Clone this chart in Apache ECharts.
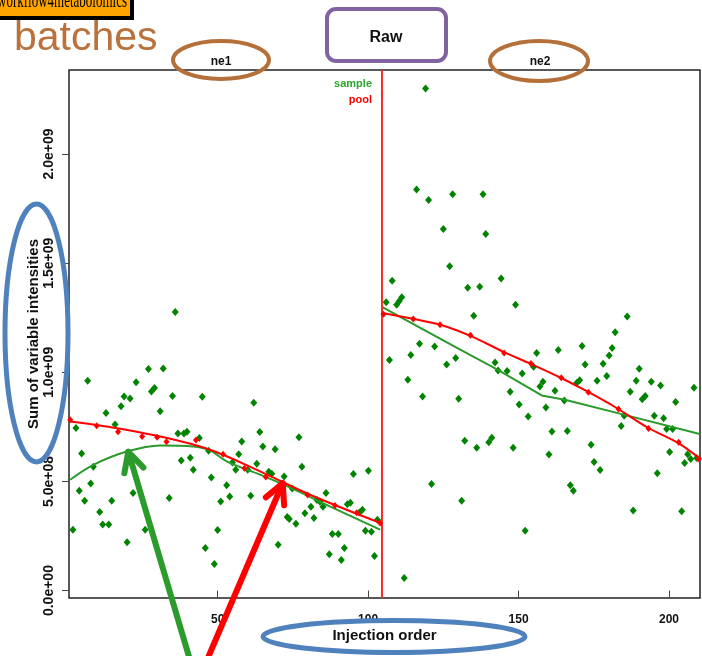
<!DOCTYPE html>
<html><head><meta charset="utf-8">
<script src="https://cdn.jsdelivr.net/npm/echarts@6/dist/echarts.min.js"></script>
<style>html,body{margin:0;padding:0;background:#fff}#c{width:702px;height:656px}</style>
</head><body><div id="c"></div>
<script>
// ---- data ----
const sampleX = [2.9,1.9,4.8,4.0,6.8,5.8,7.8,8.7,10.8,11.8,13.8,14.8,12.9,15.9,17.9,18.9,20.9,19.9,21.9,22.9,27.0,28.0,29.0,30.9,31.9,25.9,33.9,35.0,35.9,36.8,38.8,39.8,37.9,40.9,41.9,43.9,44.9,45.9,47.0,47.9,48.9,50.0,51.0,53.0,54.0,54.9,56.0,57.0,58.0,60.0,61.0,62.0,63.0,64.0,65.0,67.0,68.0,69.1,70.1,72.1,73.1,73.8,74.8,76.0,77.0,78.0,79.0,81.0,82.0,83.0,84.0,85.0,86.0,87.1,88.1,90.1,91.1,92.1,93.1,94.1,95.1,97.1,98.1,99.1,100.1,101.1,102.1,103.1,
106.0,107.1,108.0,109.5,110.3,111.2,112.0,113.2,114.2,116.1,117.1,118.1,119.1,120.1,121.1,122.1,125.0,126.1,127.1,128.1,129.1,130.1,131.1,132.1,133.1,135.1,136.1,137.1,138.2,139.1,140.1,141.1,142.2,143.2,144.2,146.2,147.2,148.2,149.0,150.2,151.2,152.2,153.2,155.0,156.0,157.1,158.1,159.1,160.1,161.1,162.1,163.2,165.2,166.2,167.2,168.2,169.3,170.3,171.1,172.1,174.1,175.1,176.1,177.1,178.1,179.3,180.1,181.1,182.1,184.1,185.1,186.1,187.1,188.1,189.1,190.1,191.1,192.1,194.1,195.1,196.1,197.2,198.2,199.2,200.2,201.2,202.2,204.2,205.2,206.2,207.2,208.3,209.2];
const sampleY = [7.45e8,2.79e8,6.28e8,4.57e8,9.61e8,4.12e8,4.91e8,5.67e8,3.6e8,3.03e8,3.03e8,4.12e8,8.13e8,7.61e8,8.45e8,8.89e8,8.8e8,2.21e8,4.47e8,9.55e8,1.015e9,9.12e8,9.28e8,8.22e8,1.017e9,2.79e8,4.24e8,8.92e8,1.276e9,7.2e8,7.2e8,7.28e8,5.96e8,6.09e8,5.54e8,6.99e8,8.88e8,1.95e8,6.41e8,5.18e8,1.22e8,2.77e8,4.08e8,4.82e8,4.31e8,5.87e8,5.54e8,6.25e8,6.83e8,5.54e8,4.35e8,8.6e8,5.81e8,7.26e8,6.6e8,5.44e8,5.35e8,6.48e8,2.1e8,5.23e8,3.37e8,3.28e8,4.68e8,3.06e8,7.03e8,5.67e8,3.54e8,3.84e8,3.32e8,4.15e8,4.07e8,3.84e8,4.47e8,1.66e8,2.59e8,2.59e8,1.4e8,1.95e8,3.95e8,4.02e8,5.34e8,3.58e8,3.7e8,2.74e8,5.49e8,2.7e8,1.58e8,3.25e8,
1.321e9,1.056e9,1.42e9,1.31e9,1.325e9,1.344e9,5.8e7,9.66e8,1.079e9,1.837e9,1.131e9,8.89e8,2.3e9,1.789e9,4.88e8,1.118e9,1.656e9,1.036e9,1.486e9,1.816e9,1.066e9,8.79e8,4.12e8,6.86e8,1.387e9,1.259e9,6.54e8,1.392e9,1.816e9,1.634e9,6.79e8,7.0e8,1.045e9,1.008e9,1.43e9,1.006e9,9.11e8,6.54e8,1.31e9,8.53e8,9.95e8,2.74e8,7.98e8,1.025e9,1.089e9,9.35e8,9.57e8,8.39e8,6.24e8,7.29e8,9.15e8,1.102e9,8.71e8,7.31e8,4.83e8,4.57e8,9.51e8,9.64e8,1.121e9,1.036e9,6.68e8,5.89e8,9.61e8,5.52e8,1.039e9,9.83e8,1.077e9,1.111e9,1.184e9,7.54e8,8.01e8,1.256e9,9.11e8,3.67e8,9.61e8,1.016e9,8.77e8,8.92e8,9.57e8,8.01e8,5.38e8,9.4e8,7.9e8,7.4e8,6.35e8,7.4e8,8.64e8,3.64e8,5.84e8,6.25e8,6.03e8,9.29e8,6.07e8];

const poolX = [1.0,9.8,16.9,24.9,29.9,33.0,42.8,51.8,58.9,66.0,71.1,79.9,89.0,96.2,104.0,
105.1,115.0,123.9,134.0,145.2,154.1,164.2,173.2,183.2,193.2,203.2,209.9];
const poolY = [7.83e8,7.55e8,7.28e8,7.06e8,7.02e8,6.82e8,6.9e8,6.25e8,5.61e8,5.2e8,4.89e8,4.38e8,3.9e8,3.57e8,3.1e8,
1.266e9,1.244e9,1.218e9,1.17e9,1.088e9,1.04e9,9.75e8,9.09e8,8.32e8,7.43e8,6.8e8,6.03e8];

// fitted trend lines per batch
const sampleFit1X = [1,8.7,19.8,30.9,41.9,47.5,53,64.1,75.2,86.2,104];
const sampleFit1Y = [5.08e8,5.76e8,6.37e8,6.65e8,6.6e8,6.42e8,5.92e8,5.31e8,4.65e8,3.93e8,2.79e8];
const sampleFit2X = [104.6,118.4,130,142.7,157.7,165.4,185.3,210.2];
const sampleFit2Y = [1.3e9,1.195e9,1.108e9,1.015e9,8.94e8,8.74e8,8.05e8,7.17e8];
const poolFit1X = [1,14.3,30.9,47.5,64.1,80.7,104];
const poolFit1Y = [7.75e8,7.49e8,7.06e8,6.45e8,5.46e8,4.39e8,3.1e8];
const poolFit2X = [104.5,115,124,134,145,154,164,173,183,193,203,210.3];
const poolFit2Y = [1.272e9,1.245e9,1.218e9,1.167e9,1.094e9,1.039e9,9.75e8,9.11e8,8.33e8,7.46e8,6.77e8,6.05e8];

const batchBoundary = 104.5;
const xTicks = [50,100,150,200];
const yTicks = [0,5e8,1e9,1.5e9,2e9];
const yTickLabels = ['0.0e+00','5.0e+08','1.0e+09','1.5e+09','2.0e+09'];
const batchNames = ['ne1','ne2'];
const legendNames = ['sample','pool'];

const zip = (xs, ys) => xs.map((x, i) => [x, ys[i]]);

// ---- annotation helpers ----
function arrow(tail, tip, color) {
  const dx = tail[0] - tip[0], dy = tail[1] - tip[1];
  const a = Math.atan2(dy, dx), L = 22, s = 0.47;
  const w1 = [tip[0] + L * Math.cos(a + s), tip[1] + L * Math.sin(a + s)];
  const w2 = [tip[0] + L * Math.cos(a - s), tip[1] + L * Math.sin(a - s)];
  const st = {stroke: color, lineWidth: 6, lineCap: 'round', lineJoin: 'round', fill: null};
  return [
    {type: 'polyline', z: 100, shape: {points: [tail, tip]}, style: st},
    {type: 'polyline', z: 100, shape: {points: [w1, tip, w2]}, style: st}
  ];
}

const FONT = '"Liberation Sans", Arial, sans-serif';
const chart = echarts.init(document.getElementById('c'), null, {renderer: 'canvas'});

chart.setOption({
  animation: false,
  backgroundColor: '#fff',
  grid: {left: 69, right: 2, top: 70, bottom: 58, show: true, borderColor: '#222', borderWidth: 1.5, backgroundColor: 'transparent'},
  xAxis: {
    type: 'value', min: 0.6, max: 210.3,
    name: 'Injection order', nameLocation: 'middle', nameGap: 30, nameMoveOverlap: false,
    nameTextStyle: {fontFamily: FONT, fontSize: 15, fontWeight: 'bold', color: '#111'},
    axisLine: {show: false},
    splitLine: {show: false},
    axisTick: {show: true, length: 7, lineStyle: {color: '#444', width: 1}, customValues: xTicks},
    axisLabel: {fontFamily: FONT, fontSize: 12, fontWeight: 'bold', color: '#111', margin: 16, customValues: xTicks}
  },
  yAxis: {
    type: 'value', min: -3.4e7, max: 2.385e9,
    name: 'Sum of variable intensities', nameLocation: 'middle', nameGap: 28, nameRotate: 90, nameMoveOverlap: false,
    nameTextStyle: {fontFamily: FONT, fontSize: 15, fontWeight: 'bold', color: '#111'},
    axisLine: {show: false},
    splitLine: {show: false},
    axisTick: {show: true, length: 7, lineStyle: {color: '#444', width: 1}, customValues: yTicks},
    axisLabel: {fontFamily: FONT, fontSize: 14, fontWeight: 'bold', color: '#111', rotate: 90, margin: 13,
      customValues: yTicks,
      formatter: v => { const i = yTicks.indexOf(v); return i >= 0 ? yTickLabels[i] : ''; }}
  },
  series: [
    {type: 'scatter', name: 'sample', data: zip(sampleX, sampleY), symbol: 'diamond', symbolSize: [7, 8],
      itemStyle: {color: '#008400', opacity: 1}, z: 3,
      markLine: {silent: true, symbol: 'none', label: {show: false},
        lineStyle: {color: '#ff2a2a', width: 2, type: 'solid'}, data: [{xAxis: batchBoundary}]}},
    {type: 'line', data: zip(sampleFit1X, sampleFit1Y), smooth: 0.35, showSymbol: false,
      lineStyle: {color: '#2a9a2a', width: 2}, z: 4},
    {type: 'line', data: zip(sampleFit2X, sampleFit2Y), smooth: false, showSymbol: false,
      lineStyle: {color: '#2a9a2a', width: 2}, z: 4},
    {type: 'line', data: zip(poolFit1X, poolFit1Y), smooth: 0.35, showSymbol: false,
      lineStyle: {color: '#ff0000', width: 2}, z: 5},
    {type: 'line', data: zip(poolFit2X, poolFit2Y), smooth: 0.3, showSymbol: false,
      lineStyle: {color: '#ff0000', width: 2}, z: 5},
    {type: 'scatter', name: 'pool', data: zip(poolX, poolY), symbol: 'diamond', symbolSize: [6, 7],
      itemStyle: {color: '#ff0000', opacity: 1}, z: 6}
  ],
  graphic: [
    // top-left banner
    {type: 'rect', z: 100, shape: {x: -6, y: -8, width: 138, height: 26}, style: {fill: '#FFA500', stroke: '#000', lineWidth: 4}},
    {type: 'text', z: 101, x: 127, y: 12, scaleY: 1.6,
      style: {text: 'workflow4metabolomics', fontFamily: '"Liberation Serif", "Times New Roman", serif', fontSize: 13, fill: '#000', align: 'right', verticalAlign: 'bottom'}},
    {type: 'text', z: 101, x: 14, y: 59,
      style: {text: 'batches', fontFamily: FONT, fontSize: 41, fill: '#B9723B', align: 'left', verticalAlign: 'bottom'}},
    // title box
    {type: 'rect', z: 100, shape: {x: 327, y: 9, width: 119, height: 52, r: 9}, style: {fill: null, stroke: '#8064A2', lineWidth: 4}},
    {type: 'text', z: 101, x: 386, y: 38, style: {text: 'Raw', fontFamily: FONT, fontSize: 16, fontWeight: 'bold', fill: '#111', align: 'center', verticalAlign: 'middle'}},
    // batch labels
    {type: 'text', z: 101, x: 221, y: 62, style: {text: batchNames[0], fontFamily: FONT, fontSize: 12, fontWeight: 'bold', fill: '#111', align: 'center', verticalAlign: 'middle'}},
    {type: 'text', z: 101, x: 540, y: 62, style: {text: batchNames[1], fontFamily: FONT, fontSize: 12, fontWeight: 'bold', fill: '#111', align: 'center', verticalAlign: 'middle'}},
    {type: 'ellipse', z: 100, shape: {cx: 221, cy: 60, rx: 48, ry: 19}, style: {fill: null, stroke: '#B5703A', lineWidth: 4}},
    {type: 'ellipse', z: 100, shape: {cx: 539, cy: 61, rx: 49, ry: 20}, style: {fill: null, stroke: '#B5703A', lineWidth: 4}},
    // legend
    {type: 'text', z: 101, x: 372, y: 84, style: {text: legendNames[0], fontFamily: FONT, fontSize: 11, fontWeight: 'bold', fill: '#2ea52e', align: 'right', verticalAlign: 'middle'}},
    {type: 'text', z: 101, x: 372, y: 100, style: {text: legendNames[1], fontFamily: FONT, fontSize: 11, fontWeight: 'bold', fill: '#ff0000', align: 'right', verticalAlign: 'middle'}},
    // axis-title highlight ellipses
    {type: 'ellipse', z: 100, shape: {cx: 36.5, cy: 333, rx: 31.5, ry: 129}, style: {fill: null, stroke: '#4F81BD', lineWidth: 5}},
    {type: 'ellipse', z: 100, shape: {cx: 394, cy: 636.5, rx: 131, ry: 16}, style: {fill: null, stroke: '#4F81BD', lineWidth: 5}},
    // arrows
    ...arrow([190, 660], [128.3, 451.7], '#2b9b2b'),
    ...arrow([207, 660], [282.7, 483.3], '#ff0000')
  ]
});
</script>
</body></html>
